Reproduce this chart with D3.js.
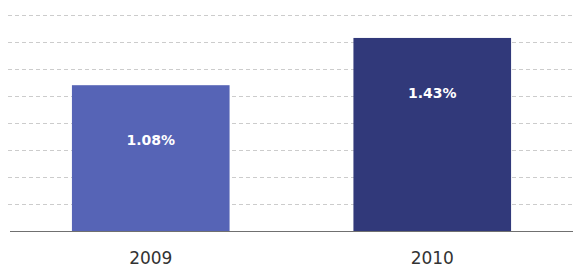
<!DOCTYPE html>
<html>
<head>
<meta charset="utf-8">
<script src="https://cdn.jsdelivr.net/npm/d3@7"></script>
<style>
  body { margin: 0; background: #fff; }
  svg { display: block; }
</style>
</head>
<body>
<svg id="chart" width="573" height="269"></svg>
<script>
const years = ["2009", "2010"];
const rates = [1.08, 1.43];
const barColors = ["#5664b6", "#31397a"];
const gridTicks = [0.2, 0.4, 0.6, 0.8, 1.0, 1.2, 1.4, 1.6];

const width = 573, height = 269;
const margin = { top: 15, right: 0, bottom: 38, left: 10 };

const svg = d3.select("#chart");

let x = d3.scaleBand()
  .domain(years)
  .range([margin.left, width - margin.right])
  .paddingInner(0.44)
  .paddingOuter(0.22);

let y = d3.scaleLinear()
  .domain([0, 1.6])
  .range([height - margin.bottom, margin.top]);

// dashed gridlines
svg.append("g")
  .selectAll("line")
  .data(gridTicks)
  .join("line")
  .attr("x1", margin.left - 2)
  .attr("x2", width)
  .attr("y1", d => Math.round(y(d)) + 0.5)
  .attr("y2", d => Math.round(y(d)) + 0.5)
  .attr("stroke", "#cccccc")
  .attr("stroke-dasharray", "4,3");

// bars
svg.append("g")
  .selectAll("rect")
  .data(years)
  .join("rect")
  .attr("x", d => x(d))
  .attr("y", (d, i) => y(rates[i]))
  .attr("width", x.bandwidth())
  .attr("height", (d, i) => y(0) - y(rates[i]))
  .attr("fill", (d, i) => barColors[i]);

// value labels
svg.append("g")
  .selectAll("text")
  .data(years)
  .join("text")
  .attr("x", d => x(d) + x.bandwidth() / 2)
  .attr("y", (d, i) => y(rates[i]) + 60)
  .attr("text-anchor", "middle")
  .attr("fill", "#ffffff")
  .attr("font-family", "DejaVu Sans, Verdana, sans-serif")
  .attr("font-weight", "bold")
  .attr("font-size", 14)
  .text((d, i) => rates[i].toFixed(2) + "%");

// x axis
let xAxis = svg.append("g")
  .attr("transform", `translate(0,${y(0)})`)
  .call(d3.axisBottom(x).tickSize(0).tickPadding(21));
xAxis.select(".domain")
  .attr("d", `M${margin.left},0.5H${width}`)
  .attr("stroke", "#707070");
xAxis.selectAll("text")
  .attr("font-family", "DejaVu Sans, Verdana, sans-serif")
  .attr("font-size", 17)
  .attr("fill", "#333");
</script>
</body>
</html>
